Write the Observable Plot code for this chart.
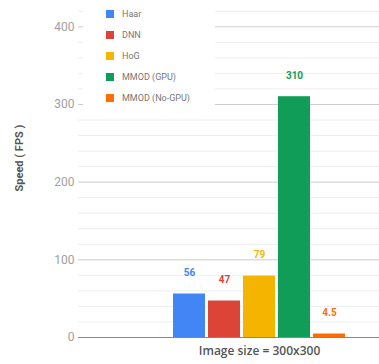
<!DOCTYPE html>
<html>
<head>
<meta charset="utf-8">
<script src="https://cdn.jsdelivr.net/npm/d3@7"></script>
<script src="https://cdn.jsdelivr.net/npm/@observablehq/plot@0.6"></script>
<style>
  html, body { margin: 0; padding: 0; background: #fff; }
  #wrap { position: relative; width: 379px; height: 364px; font-family: Roboto, "Open Sans", sans-serif; }
  #legend { position: absolute; left: 83px; top: 0px; width: 132px; height: 108px; background: #fff; padding-top: 3px; box-sizing: border-box; }
  .item { display: flex; align-items: center; height: 21px; font-size: 9px; color: #777; }
  .sw { width: 8px; height: 8px; margin-left: 23px; margin-right: 8px; }
</style>
</head>
<body>
<div id="wrap"></div>
<script>
const sizes = ["Image size = 300x300"];
const methods = ["Haar", "DNN", "HoG", "MMOD (GPU)", "MMOD (No-GPU)"];
const fps = [56, 47, 79, 310, 4.5];
const colors = ["#4285F4", "#DB4437", "#F4B400", "#0F9D58", "#FF6D01"];
const yTicks = [0, 100, 200, 300, 400];
const minorTicks = [20, 40, 60, 80, 120, 140, 160, 180, 220, 240, 260, 280, 320, 340, 360, 380, 420];
const yTitle = ["Speed ( FPS )"];

const data = methods.map((m, i) => ({method: m, fps: fps[i], size: sizes[0]}));

const chart = Plot.plot({
  width: 379,
  height: 364,
  marginLeft: 78,
  marginRight: 0,
  marginTop: 3,
  marginBottom: 27,
  style: {fontFamily: "Roboto, sans-serif", color: "#a0a0a0", background: "#fff", fontSize: "12px"},
  x: {domain: methods, range: [170, 347], paddingInner: 0.09, paddingOuter: 0.045, axis: null},
  y: {domain: [0, 430], ticks: yTicks, tickSize: 0, tickPadding: 4, label: null},
  color: {domain: methods, range: colors},
  marks: [
    Plot.ruleY(minorTicks, {stroke: "#eeeeee", strokeWidth: 1}),
    Plot.ruleY(yTicks.filter(d => d > 0), {stroke: "#cccccc", strokeWidth: 1}),
    Plot.ruleY([0], {stroke: "#888888", strokeWidth: 1}),
    Plot.barY(data, {x: "method", y: "fps", fill: "method"}),
    Plot.text(data, {x: "method", y: "fps", text: d => String(d.fps), fill: "method", dy: -21, fontSize: 10, fontWeight: "bold"}),
    Plot.text(sizes, {x: () => methods[2], frameAnchor: "bottom", dy: 17, text: d => d, fill: "#555", fontSize: 12, fontWeight: 600, fontFamily: "'Open Sans', sans-serif"}),
    Plot.text(yTitle, {frameAnchor: "left", rotate: -90, dx: -59, dy: 21, text: d => d, fill: "#555", fontSize: 11, fontWeight: "bold"})
  ]
});

const wrap = document.getElementById("wrap");
wrap.appendChild(chart);

const legend = d3.select(wrap).append("div").attr("id", "legend");
const items = legend.selectAll(".item").data(methods).join("div").attr("class", "item");
items.append("div").attr("class", "sw").style("background", (d, i) => colors[i]);
items.append("span").text(d => d);
</script>
</body>
</html>
